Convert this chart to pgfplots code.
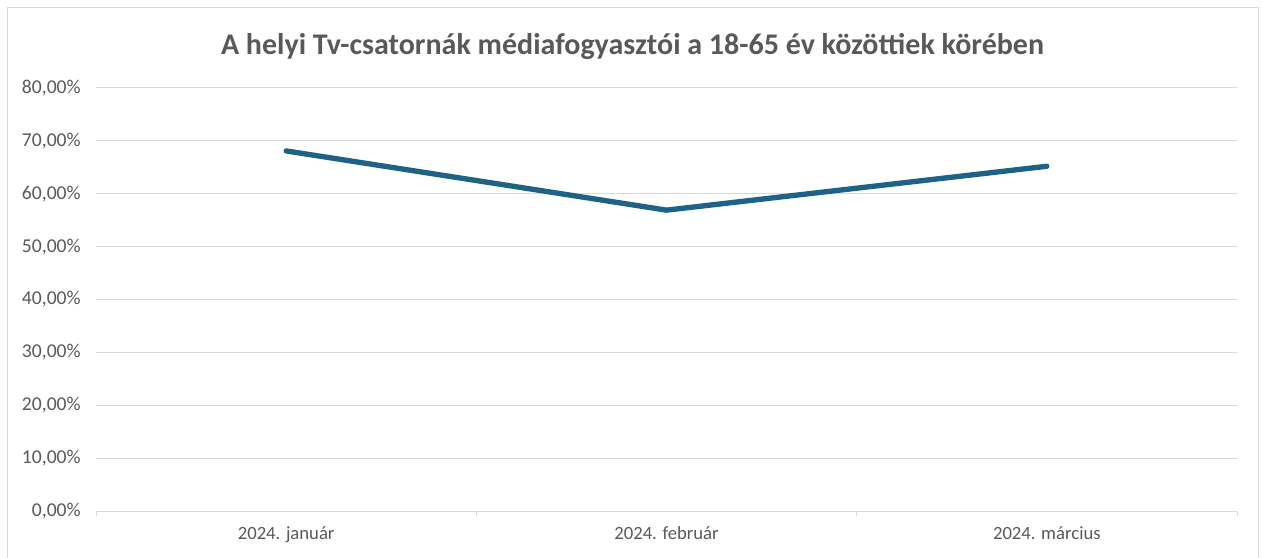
\documentclass[border=0pt]{standalone}
\usepackage{pgfplots}
\pgfplotsset{compat=1.18}
\usepackage{fontspec}
\setmainfont{Carlito}
\definecolor{txt}{HTML}{595959}
\definecolor{grd}{HTML}{D9D9D9}
\definecolor{ln}{HTML}{1F6287}
\begin{document}
\begin{tikzpicture}[x=1pt,y=1pt]
\useasboundingbox (0,0) rectangle (947.25,417.75);
\draw[grd, line width=0.75pt] (5.25,-5) -- (5.25,411.75) -- (943.5,411.75) -- (943.5,-5);
\node[txt, font=\fontsize{22.5}{26}\selectfont\bfseries] at (474.4,383.25) {A helyi Tv-csatornák médiafogyasztói a 18-65 év közöttiek körében};
\begin{axis}[at={(72pt,34.5pt)}, anchor=south west, scale only axis,
  width=855.75pt, height=317.25pt,
  xmin=-0.5, xmax=2.5, ymin=0, ymax=80,
  axis x line*=bottom, axis y line*=left,
  y axis line style={draw=none},
  x axis line style={grd, line width=0.75pt},
  ymajorgrids, grid style={grd, line width=0.75pt},
  ytick={0,10,...,80},
  yticklabels={{0,00\%},{10,00\%},{20,00\%},{30,00\%},{40,00\%},{50,00\%},{60,00\%},{70,00\%},{80,00\%}},
  xtick={0,1,2},
  xticklabels={2024. január,2024. február,2024. március},
  minor xtick={-0.5,0.5,1.5,2.5},
  major tick length=0pt,
  minor tick length=3.75pt,
  tick align=outside,
  major tick style={draw=none},
  minor x tick style={grd, line width=0.75pt},
  minor y tick style={draw=none},
  tick label style={txt, font=\fontsize{14}{16}\selectfont},
  yticklabel style={xshift=-8pt, font=\fontsize{14.7}{16}\selectfont},
  xticklabel style={yshift=-8pt},
  clip=false,
]
\addplot[ln, line width=4pt, line cap=round, line join=round] coordinates {(0,68.1)(1,56.9)(2,65.2)};
\end{axis}
\end{tikzpicture}
\end{document}
